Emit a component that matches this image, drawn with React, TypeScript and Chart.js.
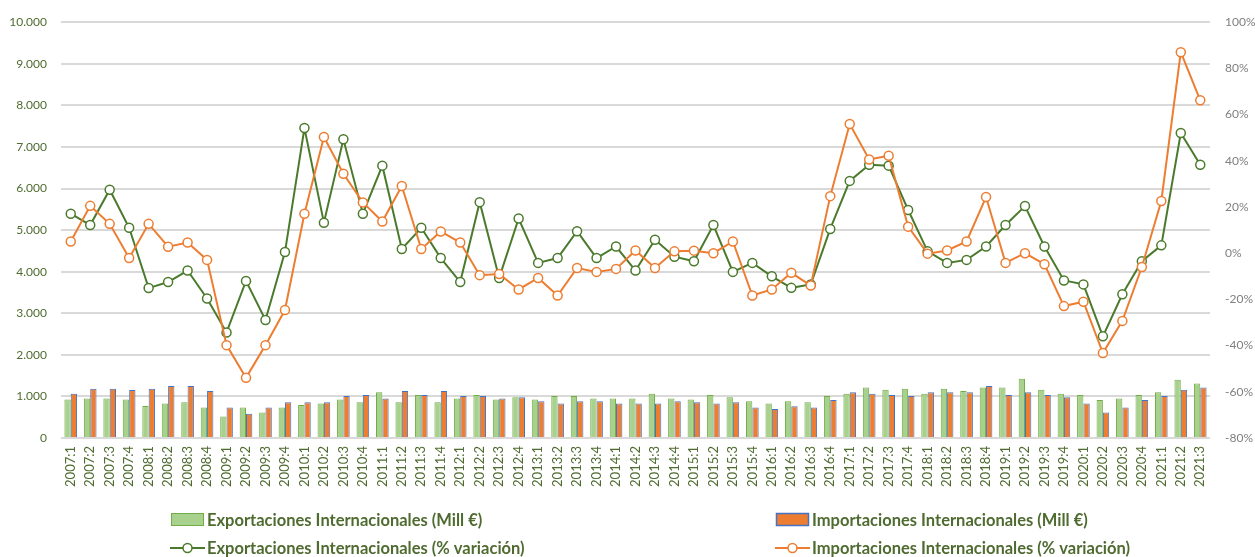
import React, { useEffect, useRef } from "react";
import { Chart, registerables } from "chart.js";

Chart.register(...registerables);

const categories = [
  "2007:1","2007:2","2007:3","2007:4","2008:1","2008:2","2008:3","2008:4",
  "2009:1","2009:2","2009:3","2009:4","2010:1","2010:2","2010:3","2010:4",
  "2011:1","2011:2","2011:3","2011:4","2012:1","2012:2","2012:3","2012:4",
  "2013:1","2013:2","2013:3","2013:4","2014:1","2014:2","2014:3","2014:4",
  "2015:1","2015:2","2015:3","2015:4","2016:1","2016:2","2016:3","2016:4",
  "2017:1","2017:2","2017:3","2017:4","2018:1","2018:2","2018:3","2018:4",
  "2019:1","2019:2","2019:3","2019:4","2020:1","2020:2","2020:3","2020:4",
  "2021:1","2021:2","2021:3",
];

const exportsMill = [
  923, 947, 947, 923, 772, 827, 859, 732,
  517, 732, 613, 732, 796, 827, 923, 859,
  1098, 859, 1034, 859, 947, 1034, 923, 978,
  923, 1010, 1010, 947, 947, 947, 1066, 947,
  923, 1034, 978, 883, 827, 883, 859, 1010,
  1066, 1217, 1161, 1185, 1066, 1185, 1130, 1217,
  1217, 1424, 1161, 1066, 1034, 915, 947, 1034,
  1098, 1400, 1313,
];

const importsMill = [
  1066, 1185, 1185, 1153, 1185, 1249, 1249, 1130,
  732, 581, 732, 859, 859, 859, 1010, 1034,
  947, 1130, 1034, 1130, 1010, 1010, 947, 978,
  883, 827, 883, 883, 827, 827, 827, 883,
  859, 827, 859, 732, 700, 764, 732, 915,
  1098, 1066, 1034, 1010, 1098, 1098, 1098, 1249,
  1034, 1098, 1034, 978, 827, 613, 732, 915,
  1010, 1161, 1217,
];

const exportsVar = [
  17.1, 12.2, 27.5, 11.0, -15.1, -12.5, -7.5, -19.6,
  -34.3, -12.0, -28.9, 0.5, 54.2, 13.2, 49.3, 17.1,
  37.9, 1.8, 11.0, -2.1, -12.5, 22.1, -10.7, 15.0,
  -4.2, -2.1, 9.5, -2.1, 2.9, -7.5, 5.8, -1.5,
  -3.5, 12.2, -8.1, -4.2, -10.0, -15.0, -13.5, 10.5,
  31.3, 38.3, 37.9, 18.7, 0.8, -4.2, -2.9, 2.9,
  12.2, 20.4, 2.9, -11.8, -13.5, -36.0, -17.8, -3.5,
  3.4, 52.0, 38.3,
];

const importsVar = [
  5.1, 20.5, 12.7, -2.1, 12.7, 2.8, 4.6, -2.9,
  -39.8, -53.9, -39.8, -24.6, 17.1, 50.3, 34.4, 22.0,
  13.7, 29.1, 1.8, 9.4, 4.6, -9.5, -9.0, -15.7,
  -10.7, -18.3, -6.4, -8.1, -6.8, 1.2, -6.4, 0.8,
  1.1, 0.0, 5.1, -18.3, -15.7, -8.5, -14.0, 24.7,
  55.9, 40.6, 42.2, 11.5, -0.2, 1.2, 5.1, 24.3,
  -4.2, 0.0, -4.8, -22.9, -21.0, -43.2, -29.3, -6.0,
  22.6, 87.0, 66.2,
];

const legendLabels = [
  "Exportaciones Internacionales (Mill €)",
  "Importaciones Internacionales (Mill €)",
  "Exportaciones Internacionales (% variación)",
  "Importaciones Internacionales (% variación)",
];

const GREEN_LINE = "#4a7a2c";
const ORANGE = "#ed7d31";
const BAR_GREEN = "#a9d18e";
const BAR_GREEN_BORDER = "#70ad47";
const BAR_BLUE_BORDER = "#4472c4";
const TEXT_GREEN = "#4f6b30";
const FONT = "Lato, 'Open Sans', sans-serif";

const legendPlugin = {
  id: "customLegend",
  afterDraw(chart: any) {
    const ctx = chart.ctx;
    ctx.save();
    ctx.textBaseline = "middle";
    ctx.textAlign = "left";
    const cols = [170, 775];
    const rows = [520, 548];
    ctx.fillStyle = BAR_GREEN;
    ctx.fillRect(cols[0] + 1, rows[0] - 7, 33, 13);
    ctx.strokeStyle = BAR_GREEN_BORDER;
    ctx.lineWidth = 1;
    ctx.strokeRect(cols[0] + 1.5, rows[0] - 6.5, 32, 12);
    ctx.fillStyle = ORANGE;
    ctx.fillRect(cols[1] + 1, rows[0] - 7, 33, 13);
    ctx.strokeStyle = BAR_BLUE_BORDER;
    ctx.lineWidth = 1.5;
    ctx.strokeRect(cols[1] + 1.5, rows[0] - 6.5, 32, 12);
    const lineColors = [GREEN_LINE, ORANGE];
    for (let c = 0; c < 2; c++) {
      ctx.strokeStyle = lineColors[c];
      ctx.lineWidth = 2;
      ctx.beginPath();
      ctx.moveTo(cols[c], rows[1]);
      ctx.lineTo(cols[c] + 35, rows[1]);
      ctx.stroke();
      ctx.beginPath();
      ctx.arc(cols[c] + 17.5, rows[1], 4.5, 0, Math.PI * 2);
      ctx.fillStyle = "#ffffff";
      ctx.fill();
      ctx.lineWidth = 1.5;
      ctx.stroke();
    }
    ctx.font = `bold 16.5px ${FONT}`;
    ctx.fillStyle = TEXT_GREEN;
    ctx.fillText(legendLabels[0], cols[0] + 37, rows[0] + 1);
    ctx.fillText(legendLabels[1], cols[1] + 37, rows[0] + 1);
    ctx.fillText(legendLabels[2], cols[0] + 37, rows[1] + 1);
    ctx.fillText(legendLabels[3], cols[1] + 37, rows[1] + 1);
    ctx.restore();
  },
};

export default function App() {
  const canvasRef = useRef<HTMLCanvasElement | null>(null);

  useEffect(() => {
    document.body.style.margin = "0";
    const canvas = canvasRef.current;
    if (!canvas) return;
    const chart = new Chart(canvas, {
      type: "bar",
      data: {
        labels: categories,
        datasets: [
          {
            type: "line",
            label: legendLabels[3],
            data: importsVar,
            yAxisID: "y1",
            borderColor: ORANGE,
            borderWidth: 2,
            pointRadius: 4.5,
            pointBorderWidth: 1.5,
            pointBackgroundColor: "#ffffff",
            pointBorderColor: ORANGE,
            tension: 0,
            order: 0,
          },
          {
            type: "line",
            label: legendLabels[2],
            data: exportsVar,
            yAxisID: "y1",
            borderColor: GREEN_LINE,
            borderWidth: 2,
            pointRadius: 4.5,
            pointBorderWidth: 1.5,
            pointBackgroundColor: "#ffffff",
            pointBorderColor: GREEN_LINE,
            tension: 0,
            order: 1,
          },
          {
            type: "bar",
            label: legendLabels[0],
            data: exportsMill,
            yAxisID: "y",
            backgroundColor: BAR_GREEN,
            borderColor: BAR_GREEN_BORDER,
            borderWidth: 1,
            barPercentage: 1,
            categoryPercentage: 0.65,
            order: 2,
          },
          {
            type: "bar",
            label: legendLabels[1],
            data: importsMill,
            yAxisID: "y",
            backgroundColor: ORANGE,
            borderColor: BAR_BLUE_BORDER,
            borderWidth: 1,
            barPercentage: 1,
            categoryPercentage: 0.65,
            order: 2,
          },
        ] as any,
      },
      options: {
        animation: false,
        responsive: false,
        maintainAspectRatio: false,
        layout: { padding: { top: 19, bottom: 62, left: 0, right: 0 } },
        plugins: {
          legend: { display: false },
          tooltip: { enabled: false },
          title: { display: false },
        },
        scales: {
          x: {
            grid: { display: false, drawTicks: false },
            border: { display: false },
            ticks: {
              autoSkip: false,
              maxRotation: 90,
              minRotation: 90,
              padding: 8,
              color: TEXT_GREEN,
              font: { family: FONT, size: 13 },
            },
            afterFit: (scale: any) => {
              scale.height = 57;
            },
          },
          y: {
            position: "left",
            min: 0,
            max: 10000,
            ticks: {
              stepSize: 1000,
              padding: 14,
              color: TEXT_GREEN,
              font: { family: FONT, size: 12 },
              callback: (v: any) => {
                const n = Number(v);
                if (n === 0) return "0";
                const th = Math.floor(n / 1000);
                return `${th}.000`;
              },
            },
            grid: { color: "#d9d9d9", lineWidth: 2, drawTicks: false },
            border: { display: false },
            afterFit: (scale: any) => {
              scale.width = 61;
            },
          },
          y1: {
            position: "right",
            min: -80,
            max: 100,
            ticks: {
              stepSize: 20,
              padding: 15,
              color: "#808080",
              font: { family: FONT, size: 12 },
              callback: (v: any) => `${v}%`,
            },
            grid: { display: false, drawTicks: false },
            border: { display: false },
            afterFit: (scale: any) => {
              scale.width = 45;
            },
          },
        },
      },
      plugins: [legendPlugin],
    });
    return () => chart.destroy();
  }, []);

  return (
    <div style={{ width: 1255, height: 557, position: "relative", background: "#ffffff" }}>
      <canvas ref={canvasRef} width={1255} height={557} style={{ display: "block" }} />
    </div>
  );
}
